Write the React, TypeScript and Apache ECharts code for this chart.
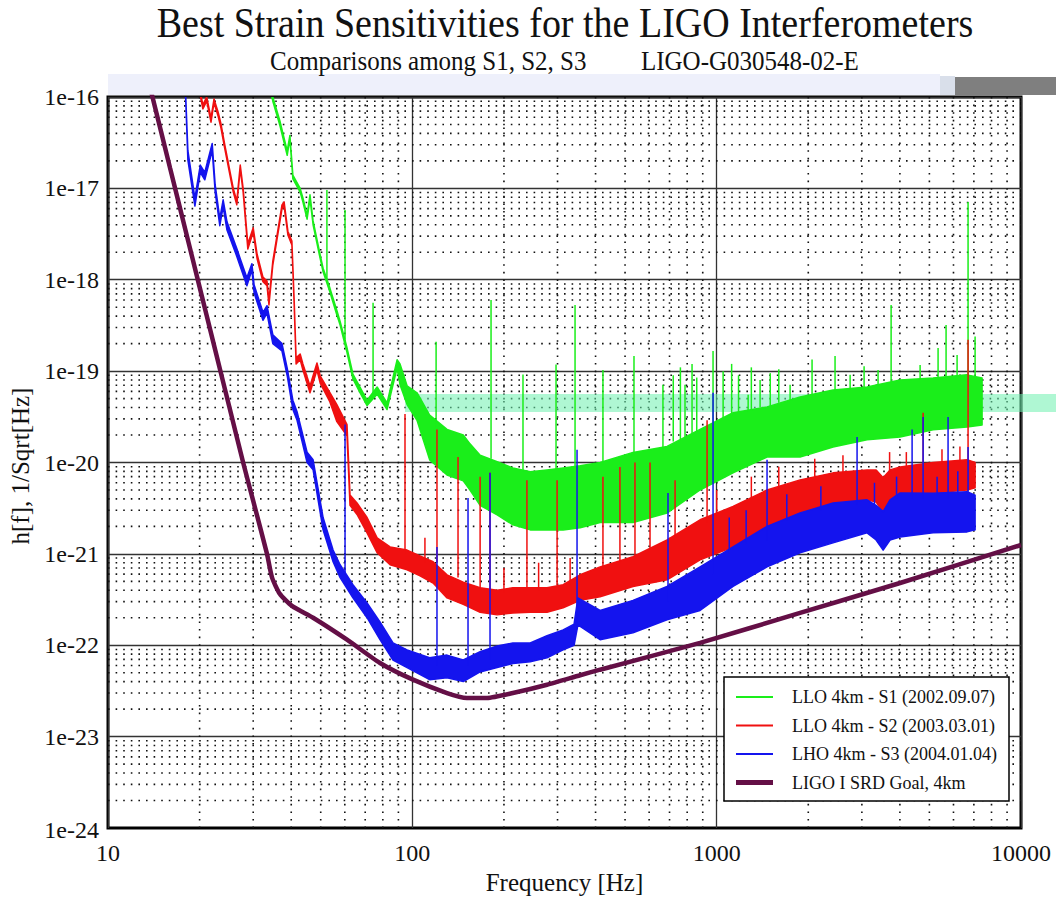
import React, { useEffect, useRef } from 'react';
import * as echarts from 'echarts';

const FONT = '"Liberation Serif", "Times New Roman", serif';

// ---- Axis ticks / grid values ----
const xTickLabels = ['10', '100', '1000', '10000'];
const yTickLabels = ['1e-24', '1e-23', '1e-22', '1e-21', '1e-20', '1e-19', '1e-18', '1e-17', '1e-16'];
const xDecades = [10, 100, 1000];
const yDecades = [1e-24, 1e-23, 1e-22, 1e-21, 1e-20, 1e-19, 1e-18, 1e-17];
const minorSteps = [2, 3, 4, 5, 6, 7, 8, 9];

// ---- LLO 4km - S1 (green) envelope: frequency [Hz], upper, lower h[f] ----
const s1Freq = [34.1, 34.8, 36.7, 38.8, 39.6, 40.5, 42.8, 43.7, 45.1, 46.1, 47.2, 49.8, 50.9, 53.6, 56.5, 57.9, 61.0, 63.8, 67.3, 71.0, 76.6, 82.6, 89.1, 91.1, 96.1, 103.6, 114, 130, 147, 154.7, 167, 190, 214, 244, 277, 313, 356, 414, 531, 687, 882, 1132, 1464, 1880, 2413, 3120, 4006, 5142, 6649, 7449];
const s1High = [1.35e-16, 1.0e-16, 5.5e-17, 2.57e-17, 3.8e-17, 1.4e-17, 1.0e-17, 7.85e-18, 5.1e-18, 8.5e-18, 4.4e-18, 1.87e-18, 1.34e-18, 8.1e-19, 4.6e-19, 3.5e-19, 1.8e-19, 9.3e-20, 6.7e-20, 4.8e-20, 6.7e-20, 4.5e-20, 1.33e-19, 1.2e-19, 6.9e-20, 5.8e-20, 3.3e-20, 2.3e-20, 2.0e-20, 1.6e-20, 1.2e-20, 1.02e-20, 8.7e-21, 7.9e-21, 8.3e-21, 8.7e-21, 9.2e-21, 1.0e-20, 1.29e-20, 1.5e-20, 2.3e-20, 3.5e-20, 4.06e-20, 5.2e-20, 6.2e-20, 6.7e-20, 8.0e-20, 8.4e-20, 9.1e-20, 8.4e-20];
const s1Low = [1.22e-16, 9.0e-17, 4.9e-17, 2.3e-17, 3.5e-17, 1.27e-17, 9.1e-18, 7.1e-18, 4.6e-18, 7.65e-18, 4.0e-18, 1.7e-18, 1.22e-18, 7.35e-19, 4.1e-19, 3.2e-19, 1.6e-19, 8.2e-20, 5.8e-20, 4.2e-20, 5.6e-20, 3.8e-20, 1.08e-19, 7.1e-20, 4.3e-20, 2.9e-20, 1.07e-20, 7.3e-21, 6.3e-21, 5.0e-21, 3.4e-21, 2.67e-21, 2.08e-21, 1.83e-21, 1.83e-21, 1.83e-21, 1.93e-21, 2.2e-21, 2.2e-21, 2.8e-21, 5.0e-21, 7.7e-21, 1.15e-20, 1.15e-20, 1.48e-20, 1.77e-20, 1.9e-20, 2.28e-20, 2.45e-20, 2.58e-20];
// spectral lines: [frequency, base, peak]
const s1Lines = [[52.4, 1.0e-18, 9.6e-18], [60.1, 2.2e-19, 5.8e-18], [74.3, 5.5e-20, 5.6e-19], [119.7, 2.5e-20, 2.1e-19], [181.4, 1.1e-20, 6.0e-19], [231, 8e-21, 9.2e-20], [296.6, 8.5e-21, 1.18e-19], [342.5, 9e-21, 5.3e-19], [423, 9.5e-21, 1.03e-19], [535, 1.2e-20, 1.46e-19], [666, 1.4e-20, 7.1e-20], [720, 1.7e-20, 9e-20], [760, 1.8e-20, 1.1e-19], [787, 1.8e-20, 7.1e-20], [830, 2e-20, 1.2e-19], [860, 2.1e-20, 8.5e-20], [973, 2.5e-20, 1.66e-19], [1050, 3e-20, 1.0e-19], [1120, 3.3e-20, 1.2e-19], [1180, 3.4e-20, 9e-20], [1269, 3.6e-20, 5.5e-20], [1300, 3.7e-20, 1.1e-19], [1389, 4e-20, 8.0e-20], [1500, 4.1e-20, 9.5e-20], [1600, 4.5e-20, 1.05e-19], [1743, 4.8e-20, 7.1e-20], [2058, 5.2e-20, 1.34e-19], [2449, 6e-20, 1.46e-19], [2745, 6.3e-20, 9.1e-20], [3051, 6.6e-20, 1.13e-19], [3391, 7e-20, 1.03e-19], [3743, 7.5e-20, 5.3e-19], [4661, 8e-20, 1.17e-19], [5340, 8.4e-20, 1.79e-19], [5673, 8.5e-20, 3.2e-19], [6166, 8.7e-20, 1.5e-19], [6700, 8.8e-20, 7.1e-18], [7066, 8.8e-20, 2.4e-19]];

// ---- LLO 4km - S2 (red) ----
const s2Freq = [19.8, 20.5, 21.1, 21.8, 22.3, 23.0, 23.5, 24.2, 25.8, 26.5, 27.2, 27.8, 28.8, 30.0, 30.9, 32.3, 33.3, 33.8, 34.8, 37.3, 37.9, 39.0, 40.2, 40.9, 41.5, 42.8, 43.7, 46.1, 48.6, 49.8, 53.6, 56.5, 61.0, 62.4, 65.8, 71.0, 76.6, 84.5, 96.1, 106, 117, 130, 147, 167, 190, 214, 244, 277, 313, 356, 414, 531, 687, 882, 1132, 1464, 1880, 2413, 3120, 3341, 3524, 3713, 4006, 5142, 6649, 7066];
const s2High = [1.46e-16, 8.2e-17, 1.0e-16, 5.9e-17, 9.5e-17, 6.85e-17, 5.1e-17, 3.0e-17, 1.0e-17, 7.3e-18, 1.8e-17, 1.0e-17, 2.46e-18, 3.7e-18, 1.9e-18, 1.07e-18, 9.7e-19, 6.0e-19, 1.6e-18, 6.6e-18, 7.1e-18, 3.4e-18, 2.66e-18, 6.0e-19, 1.4e-19, 1.54e-19, 1.2e-19, 6.9e-20, 1.23e-19, 8.9e-20, 5.8e-20, 4.3e-20, 2.6e-20, 4.4e-21, 3.6e-21, 2.5e-21, 1.5e-21, 1.19e-21, 1.1e-21, 9.5e-22, 8.2e-22, 5.9e-22, 4.9e-22, 4.25e-22, 4.0e-22, 4.25e-22, 4.25e-22, 4.25e-22, 4.6e-22, 5.9e-22, 7.2e-22, 9.3e-22, 1.42e-21, 2.36e-21, 3.3e-21, 5.0e-21, 6.45e-21, 7.7e-21, 8.3e-21, 8.3e-21, 6.8e-21, 8.3e-21, 8.95e-21, 1.0e-20, 1.07e-20, 1.0e-20];
const s2Low = [1.32e-16, 7.4e-17, 9.0e-17, 5.3e-17, 8.6e-17, 6.2e-17, 4.6e-17, 2.7e-17, 9.1e-18, 6.6e-18, 1.63e-17, 9.1e-18, 2.17e-18, 3.3e-18, 1.7e-18, 9.5e-19, 8.6e-19, 5.3e-19, 1.45e-18, 5.95e-18, 6.4e-18, 3.1e-18, 2.4e-18, 5.3e-19, 1.2e-19, 1.33e-19, 1.03e-19, 5.8e-20, 1.03e-19, 7.4e-20, 4.6e-20, 2.8e-20, 1.96e-20, 3.4e-21, 2.7e-21, 1.7e-21, 1.03e-21, 7.6e-22, 6.7e-22, 5.75e-22, 4.8e-22, 3.3e-22, 2.8e-22, 2.3e-22, 2.15e-22, 2.26e-22, 2.3e-22, 2.3e-22, 2.57e-22, 3.1e-22, 3.4e-22, 4.4e-22, 5.2e-22, 8.6e-22, 1.19e-21, 1.97e-21, 2.8e-21, 3.3e-21, 3.9e-21, 3.7e-21, 2.8e-21, 3.9e-21, 4.2e-21, 4.65e-21, 5.0e-21, 5.3e-21];
const s2Lines = [[94.6, 1.0e-21, 3.4e-20], [110, 8e-22, 1.5e-21], [120.5, 8e-22, 2.3e-20], [141.3, 5.5e-22, 1.15e-20], [167, 4.2e-22, 7.0e-21], [180, 4e-22, 7.7e-21], [200, 3.8e-22, 7e-22], [238, 4.2e-22, 6.4e-21], [260, 4e-22, 8e-22], [299, 4.5e-22, 6.4e-21], [330, 4.5e-22, 9e-22], [423, 7e-22, 7.0e-21], [481, 8e-22, 8.9e-21], [539, 9e-22, 1.0e-20], [604, 1.1e-21, 1.0e-20], [730, 1.6e-21, 6.4e-21], [930, 2.2e-21, 2.9e-20], [1000, 2.6e-21, 5e-21], [1300, 4e-21, 7e-21], [1600, 5e-21, 9e-21], [2100, 6.5e-21, 1.1e-20], [2600, 7.5e-21, 1.2e-20], [3700, 8e-21, 1.3e-20], [4200, 8.5e-21, 1.3e-20], [4768, 9e-21, 3.5e-20], [5500, 9.5e-21, 1.4e-20], [6300, 1e-20, 1.5e-20], [6700, 1e-20, 2.2e-19]];

// ---- LHO 4km - S3 (blue) ----
const s3Freq = [17.8, 18.0, 18.3, 19.3, 20.1, 20.8, 22.0, 22.5, 23.3, 23.9, 24.6, 26.5, 27.2, 28.6, 29.7, 30.2, 32.3, 33.3, 34.8, 37.3, 38.8, 40.5, 41.8, 45.1, 47.2, 50.9, 54.9, 57.9, 63.8, 71.0, 78.3, 86.4, 96.1, 114, 130, 147, 167, 190, 214, 244, 277, 313, 340, 350, 414, 531, 687, 882, 1132, 1464, 1880, 2413, 3120, 3341, 3524, 3713, 4006, 5142, 6649, 7066];
const s3High = [1.5e-16, 1.05e-16, 2.6e-17, 7.8e-18, 1.8e-17, 1.5e-17, 3.1e-17, 1.09e-17, 4.7e-18, 7.5e-18, 4.3e-18, 2.2e-18, 1.7e-18, 1.05e-18, 1.5e-18, 8.8e-19, 4.4e-19, 5.2e-19, 2.5e-19, 2.0e-19, 1.08e-19, 4.8e-20, 3.6e-20, 1.3e-20, 1.07e-20, 2.5e-21, 1.1e-21, 7.6e-22, 4.6e-22, 2.9e-22, 1.8e-22, 1.06e-22, 8.9e-23, 7.3e-23, 7.8e-23, 6.9e-23, 8.5e-23, 9.8e-23, 1.06e-22, 1.06e-22, 1.27e-22, 1.47e-22, 1.7e-22, 3.3e-22, 2.4e-22, 3.1e-22, 4.4e-22, 7.2e-22, 1.19e-21, 2.0e-21, 2.8e-21, 3.6e-21, 3.9e-21, 3.4e-21, 2.9e-21, 3.9e-21, 4.65e-21, 4.6e-21, 4.8e-21, 4.4e-21];
const s3Low = [1.4e-16, 9.5e-17, 2.05e-17, 6.4e-18, 1.5e-17, 1.24e-17, 2.6e-17, 9.1e-18, 3.9e-18, 6.3e-18, 3.5e-18, 1.8e-18, 1.4e-18, 8.6e-19, 1.28e-18, 7.2e-19, 3.6e-19, 4.3e-19, 2.0e-19, 1.66e-19, 8.9e-20, 3.8e-20, 2.9e-20, 1.0e-20, 8.3e-21, 1.83e-21, 8.2e-22, 5.5e-22, 3.3e-22, 2.0e-22, 1.15e-22, 6.9e-23, 5.7e-23, 4.2e-23, 4.4e-23, 4.0e-23, 5.1e-23, 5.7e-23, 6.3e-23, 6.6e-23, 7.3e-23, 8.9e-23, 1.0e-22, 1.67e-22, 1.15e-22, 1.37e-22, 1.9e-22, 2.4e-22, 4.4e-22, 7.2e-22, 1.03e-21, 1.32e-21, 1.7e-21, 1.42e-21, 1.1e-21, 1.42e-21, 1.53e-21, 1.7e-21, 1.74e-21, 1.83e-21];
const s3Lines = [[60.1, 6e-22, 2.6e-20], [120.5, 6e-23, 1.19e-21], [152.4, 6e-23, 4.1e-21], [180, 7e-23, 7.7e-21], [347.7, 1.5e-22, 1.38e-20], [692, 3e-22, 4.65e-21], [973, 6e-22, 5.8e-20], [1100, 1e-21, 2.5e-21], [1250, 1.3e-21, 3e-21], [1464, 1.4e-21, 1.07e-20], [1700, 2.3e-21, 4.5e-21], [2200, 3e-21, 5.5e-21], [2893, 3.5e-21, 1.9e-20], [3300, 3.5e-21, 6e-21], [3900, 4e-21, 7e-21], [4387, 4e-21, 2.3e-20], [4768, 4e-21, 3.15e-20], [5300, 4.3e-21, 7e-21], [5759, 4e-21, 3.15e-20], [6200, 4.5e-21, 8e-21], [6700, 4e-21, 1.48e-20]];

// ---- LIGO I SRD Goal, 4km ----
const goalFreq = [12, 14, 16, 18, 20, 22, 25, 27.8, 30, 33.3, 34.6, 36.7, 40.2, 47.2, 61, 78.3, 100.5, 130, 151, 176, 214, 277, 356, 414, 882, 1880, 4005, 10000];
const goalH = [7.5e-16, 1e-16, 1.66e-17, 3.42e-18, 8.3e-19, 2.31e-19, 4.15e-20, 1e-20, 3.8e-21, 1e-21, 5.5e-22, 3.65e-22, 2.7e-22, 2.0e-22, 1.15e-22, 6.4e-23, 4.2e-23, 3.0e-23, 2.65e-23, 2.65e-23, 3.0e-23, 3.7e-23, 4.7e-23, 5.4e-23, 1.06e-22, 2.26e-22, 4.8e-22, 1.25e-21];

const legendNames = ['LLO 4km - S1 (2002.09.07)', 'LLO 4km - S2 (2003.03.01)', 'LHO 4km - S3 (2004.01.04)', 'LIGO I SRD Goal, 4km'];

const GREEN = '#1aee1a';
const RED = '#f01010';
const BLUE = '#1414ee';
const PURPLE = '#640f46';

function bandSeries(name: string, color: string, freq: number[], hi: number[], lo: number[], lines: number[][], z: number) {
  return {
    type: 'custom',
    name,
    z,
    clip: true,
    silent: true,
    data: [[freq[0], hi[0]]],
    encode: { x: 0, y: 1 },
    renderItem: (_params: any, api: any) => {
      const top = freq.map((f, i) => api.coord([f, hi[i]]));
      const bottom = freq.map((f, i) => api.coord([f, lo[i]])).reverse();
      const children: any[] = [
        {
          type: 'polygon',
          shape: { points: top.concat(bottom) },
          style: { fill: color, stroke: color, lineWidth: 1.5, lineJoin: 'round' },
        },
      ];
      lines.forEach(([f, b, p]) => {
        const a = api.coord([f, b]);
        const c = api.coord([f, p]);
        children.push({
          type: 'line',
          shape: { x1: a[0], y1: a[1], x2: c[0], y2: c[1] },
          style: { stroke: color, lineWidth: 1.5 },
        });
      });
      return { type: 'group', children };
    },
  };
}

function txt(text: string, x: number, y: number, size: number, align: string, extra: any = {}) {
  return {
    type: 'text',
    x,
    y,
    z: 100,
    ...extra,
    style: {
      text,
      fontFamily: FONT,
      fontSize: size,
      fill: '#111',
      align,
      verticalAlign: 'middle',
      textAlign: align,
      textVerticalAlign: 'middle',
    },
  };
}

export default function App() {
  const ref = useRef<HTMLDivElement>(null);
  useEffect(() => {
    if (!ref.current) return;
    const chart = echarts.init(ref.current, undefined, { renderer: 'svg' });

    const minorX: number[] = [];
    xDecades.forEach((d) => minorSteps.forEach((m) => minorX.push(d * m)));
    const minorY: number[] = [];
    yDecades.forEach((d) => minorSteps.forEach((m) => minorY.push(d * m)));

    const legendColors = [GREEN, RED, BLUE, PURPLE];
    const legendWidths = [2, 2, 2, 5];
    const legendItems: any[] = [
      {
        type: 'rect',
        z: 100,
        shape: { x: 724, y: 677, width: 285, height: 124 },
        style: { fill: '#fff', stroke: '#000', lineWidth: 1.5 },
      },
    ];
    legendNames.forEach((n, i) => {
      const y = 697 + i * 28.5;
      legendItems.push({
        type: 'line',
        z: 101,
        shape: { x1: 736, y1: y, x2: 773, y2: y },
        style: { stroke: legendColors[i], lineWidth: legendWidths[i] },
      });
      legendItems.push(txt(n, 792, y, 18, 'left', { z: 101 }));
    });

    const option: any = {
      animation: false,
      backgroundColor: '#ffffff',
      grid: {
        left: 108,
        right: 35,
        top: 97,
        bottom: 71,
        show: true,
        borderColor: '#000',
        borderWidth: 3,
        backgroundColor: 'transparent',
        outerBoundsMode: 'none',
        containLabel: false,
      },
      xAxis: {
        type: 'log',
        logBase: 10,
        min: 10,
        max: 10000,
        splitNumber: 3,
        axisLine: { show: false },
        axisTick: { show: false },
        splitLine: { show: true, lineStyle: { color: '#333', width: 1.3 } },
        axisLabel: {
          formatter: (_v: number, i: number) => xTickLabels[i] ?? '',
          fontFamily: FONT,
          fontSize: 24,
          color: '#111',
          margin: 13,
        },
        name: 'Frequency [Hz]',
        nameLocation: 'middle',
        nameGap: 42,
        nameTextStyle: { fontFamily: FONT, fontSize: 25, color: '#111' },
      },
      yAxis: {
        type: 'log',
        logBase: 10,
        min: 1e-24,
        max: 1e-16,
        splitNumber: 8,
        axisLine: { show: false },
        axisTick: { show: false },
        splitLine: { show: true, lineStyle: { color: '#333', width: 1.3 } },
        axisLabel: {
          // the lowest tick (1e-24) is drawn as a graphic text below
          formatter: (_v: number, i: number) => (i === 0 ? '' : yTickLabels[i] ?? ''),
          fontFamily: FONT,
          fontSize: 24,
          color: '#111',
          margin: 9,
        },
      },
      graphic: [
        { type: 'rect', z: 0, shape: { x: 108, y: 74, width: 832, height: 21 }, style: { fill: '#eef0fb' } },
        { type: 'rect', z: 0, shape: { x: 940, y: 76, width: 15, height: 19 }, style: { fill: '#d9dfea' } },
        { type: 'rect', z: 0, shape: { x: 955, y: 77, width: 101, height: 18 }, style: { fill: '#7f7f7f' } },
        { type: 'rect', z: 2, shape: { x: 405, y: 394, width: 651, height: 18 }, style: { fill: 'rgba(110,240,175,0.55)' } },
        txt('Best Strain Sensitivities for the LIGO Interferometers', 565, 23, 38, 'center', { scaleY: 1.1 }),
        txt('Comparisons among S1, S2, S3', 270, 61, 25, 'left', { scaleY: 1.08 }),
        txt('LIGO-G030548-02-E', 641, 61, 25, 'left', { scaleY: 1.08 }),
        txt('h[f], 1/Sqrt[Hz]', 20, 466, 25, 'center', { rotation: Math.PI / 2 }),
        txt(yTickLabels[0], 99, 830, 24, 'right'),
        ...legendItems,
      ],
      series: [
        {
          type: 'custom',
          name: 'minor-grid',
          z: 1,
          silent: true,
          data: [[100, 1e-20]],
          encode: { x: 0, y: 1 },
          renderItem: (params: any, api: any) => {
            const cs = params.coordSys;
            const children: any[] = [];
            minorX.forEach((v) => {
              const px = api.coord([v, 1e-20])[0];
              children.push({
                type: 'line',
                shape: { x1: px, y1: cs.y, x2: px, y2: cs.y + cs.height },
                style: { stroke: '#111', lineWidth: 1.6, lineDash: [1.6, 6] },
              });
            });
            minorY.forEach((v) => {
              const py = api.coord([100, v])[1];
              children.push({
                type: 'line',
                shape: { x1: cs.x, y1: py, x2: cs.x + cs.width, y2: py },
                style: { stroke: '#111', lineWidth: 1.6, lineDash: [1.6, 6] },
              });
            });
            return { type: 'group', children };
          },
        },
        bandSeries(legendNames[0], GREEN, s1Freq, s1High, s1Low, s1Lines, 3),
        bandSeries(legendNames[1], RED, s2Freq, s2High, s2Low, s2Lines, 4),
        bandSeries(legendNames[2], BLUE, s3Freq, s3High, s3Low, s3Lines, 5),
        {
          type: 'line',
          name: legendNames[3],
          z: 6,
          data: goalFreq.map((f, i) => [f, goalH[i]]),
          showSymbol: false,
          symbol: 'none',
          smooth: 0.2,
          clip: true,
          silent: true,
          lineStyle: { color: PURPLE, width: 4.5 },
        },
      ],
    };
    chart.setOption(option);
    return () => chart.dispose();
  }, []);
  return <div ref={ref} style={{ position: 'fixed', left: 0, top: 0, width: 1056, height: 899 }} />;
}
